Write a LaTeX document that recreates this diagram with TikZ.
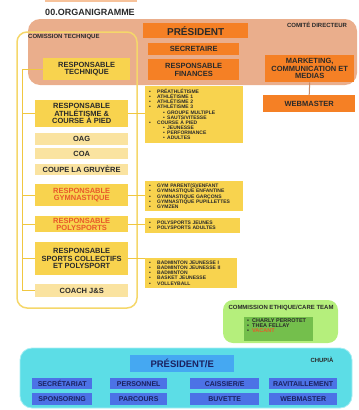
\documentclass[tikz,border=0pt]{standalone}
\usepackage{fontspec}
\setmainfont{Liberation Sans}
\definecolor{salmon}{HTML}{EAAE8C}
\definecolor{orangebox}{HTML}{F58025}
\definecolor{yel}{HTML}{F8D34E}
\definecolor{lyel}{HTML}{FAE3A0}
\definecolor{yelline}{HTML}{F5D76A}
\definecolor{conncol}{HTML}{F0C740}
\definecolor{redtxt}{HTML}{E85A2A}
\definecolor{lgreen}{HTML}{B5EF7C}
\definecolor{dgreen}{HTML}{74BF4C}
\definecolor{cyanbg}{HTML}{5CDDE6}
\definecolor{cyanline}{HTML}{A6EEF3}
\definecolor{presblue}{HTML}{45A8F2}
\definecolor{smallblue}{HTML}{4C72E6}
\definecolor{navytxt}{HTML}{1B2160}
\definecolor{txt}{HTML}{2A2A2A}
\definecolor{mwline}{HTML}{C98A66}
\definecolor{sliver}{HTML}{F7C29A}
\newcommand{\myb}{\makebox[9pt][l]{\hspace{1pt}•}}
\newcommand{\mybb}{\makebox[19pt][l]{\hspace{15pt}•}}
\newcommand{\myc}{\makebox[5pt][l]{•}}
\tikzset{
  base/.style={inner sep=0pt, align=center, anchor=north west, text=txt,
    font=\bfseries\fontsize{7.5}{7.5}\selectfont},
  obox/.style={base, fill=orangebox},
  ybox/.style={base, fill=yel},
  lybox/.style={base, fill=lyel},
  redt/.style={text=redtxt},
  detail/.style={base, fill=yel, align=left, inner xsep=3pt, inner ysep=3pt,
    font=\bfseries\fontsize{5}{5.1}\selectfont},
  grouplabel/.style={inner sep=0pt, text=txt, font=\bfseries\fontsize{6}{6}\selectfont},
  bluebox/.style={base, fill=smallblue, text=navytxt, font=\bfseries\fontsize{7}{7}\selectfont},
  conn/.style={draw=conncol, line width=1pt},
}
\begin{document}
\begin{tikzpicture}[x=1pt,y=-1pt]
\useasboundingbox (0,0) rectangle (359,410);
% top sliver
\fill[sliver] (45,0) rectangle (137,1.5);
% title
\node[inner sep=0pt, text=txt, font=\bfseries\fontsize{9}{9}\selectfont] (title) at (90,12) {00.ORGANIGRAMME};
% comite directeur
\fill[salmon, rounded corners=12pt] (28,19) rectangle (357,85);
\node[grouplabel] (cdlabel) at (317,25) {COMITÉ DIRECTEUR};
\node[obox, minimum width=105, minimum height=15, font=\bfseries\fontsize{10}{10}\selectfont] (pres) at (143,23) {PRÉSIDENT};
\node[obox, minimum width=91, minimum height=12] (sec) at (148,43) {SECRETAIRE};
\node[obox, minimum width=91, minimum height=21] (fin) at (148,59) {RESPONSABLE\\FINANCES};
\node[obox, minimum width=89, minimum height=27] (mk) at (265,55) {MARKETING,\\COMMUNICATION ET\\MEDIAS};
\node[obox, minimum width=92, minimum height=17] (wm) at (263,95) {WEBMASTER};
\draw[mwline, line width=1pt] (mk.south) -- (wm.north);
% commission technique
\draw[yelline, line width=1.5pt, rounded corners=10pt] (17,32) rectangle (137,308);
\node[grouplabel, anchor=west] (ctlabel) at (28,37) {COMISSION TECHNIQUE};
\node[ybox, minimum width=87, minimum height=22] (rt) at (43,58) {RESPONSABLE\\TECHNIQUE};
\node[ybox, minimum width=93, minimum height=27] (ath) at (35,100) {RESPONSABLE\\ATHLÉTISME \&\\COURSE À PIED};
\node[lybox, minimum width=93, minimum height=12] (oag) at (35,133) {OAG};
\node[lybox, minimum width=93, minimum height=11] (coa) at (35,148) {COA};
\node[lybox, minimum width=93, minimum height=11] (coupe) at (35,164) {COUPE LA GRUYÈRE};
\node[ybox, redt, minimum width=93, minimum height=22] (gym) at (35,184) {RESPONSABLE\\GYMNASTIQUE};
\node[ybox, redt, minimum width=93, minimum height=16] (poly) at (35,216) {RESPONSABLE\\POLYSPORTS};
\node[ybox, minimum width=93, minimum height=33] (sc) at (35,242) {RESPONSABLE\\SPORTS COLLECTIFS\\ET POLYSPORT};
\node[lybox, minimum width=93, minimum height=13] (coach) at (35,284) {COACH J\&S};
% detail lists
\node[detail, text width=92] (ad) at (145,86) {\myb PRÉATHLÉTISME\\
\myb ATHLÉTISME 1\\
\myb ATHLÉTISME 2\\
\myb ATHLÉTISME 3\\
\mybb GROUPE MULTIPLE\\
\mybb SAUTS/VITESSE\\
\myb COURSE À PIED\\
\mybb JEUNESSE\\
\mybb PERFORMANCE\\
\mybb ADULTES};
\node[detail, text width=92] (gd) at (145,181) {\myb GYM PARENT(S)/ENFANT\\
\myb GYMNASTIQUE ENFANTINE\\
\myb GYMNASTIQUE GARÇONS\\
\myb GYMNASTIQUE PUPILLETTES\\
\myb GYMZEN};
\node[detail, text width=89] (pd) at (145,218) {\myb POLYSPORTS JEUNES\\
\myb POLYSPORTS ADULTES};
\node[detail, text width=86] (bd) at (145,258) {\myb BADMINTON JEUNESSE I\\
\myb BADMINTON JEUNESSE II\\
\myb BADMINTON\\
\myb BASKET JEUNESSE\\
\myb VOLLEYBALL};
% connectors
\coordinate (spTop) at (22,69);
\draw[conn] (rt.west) -- (rt.west -| spTop) -- (coach.west -| spTop) -- (coach.west);
\foreach \b in {ath,gym,poly,sc}{
  \draw[conn] (\b.west) -- (\b.west -| spTop);
}
\draw[conn] (ath.east) -- (ath.east -| ad.west);
\draw[conn] (gym.east) -- (gym.east -| gd.west);
\draw[conn] (poly.east) -- (poly.east -| pd.west);
\draw[conn] (sc.east) -- (sc.east -| bd.west);
% commission ethique
\fill[lgreen, rounded corners=10pt] (223,300) rectangle (338,343);
\node[grouplabel] (celabel) at (281,308) {COMMISSION ETHIQUE/CARE TEAM};
\node[base, fill=dgreen, minimum width=69, minimum height=24] (ceinner) at (244,317) {};
\node[base, align=left, inner xsep=3pt, inner ysep=0pt, font=\bfseries\fontsize{5.5}{5.1}\selectfont] (cenames) at (244,318.5) {\myc CHARLY PERROTET\\
\myc THEA FELLAY\\
\myc \textcolor{redtxt}{VACANT}};
% chupia
\draw[cyanline, fill=cyanbg, line width=0.8pt, rounded corners=12pt] (20,348) rectangle (352,408);
\node[grouplabel] (chlabel) at (322,360) {CHUPIÀ};
\node[base, fill=presblue, minimum width=104, minimum height=17, font=\bfseries\fontsize{9.5}{9.5}\selectfont, text=navytxt] (pres2) at (130,355) {PRÉSIDENT/E};
\node[bluebox, minimum width=60, minimum height=11] (b1) at (32,378) {SECRÉTARIAT};
\node[bluebox, minimum width=57, minimum height=11] (b2) at (110,378) {PERSONNEL};
\node[bluebox, minimum width=69, minimum height=11] (b3) at (190,378) {CAISSIER/E};
\node[bluebox, minimum width=68, minimum height=11] (b4) at (269,378) {RAVITAILLEMENT};
\node[bluebox, minimum width=60, minimum height=12] (b5) at (32,393) {SPONSORING};
\node[bluebox, minimum width=57, minimum height=12] (b6) at (110,393) {PARCOURS};
\node[bluebox, minimum width=69, minimum height=12] (b7) at (190,393) {BUVETTE};
\node[bluebox, minimum width=68, minimum height=12] (b8) at (269,393) {WEBMASTER};
\end{tikzpicture}
\end{document}
